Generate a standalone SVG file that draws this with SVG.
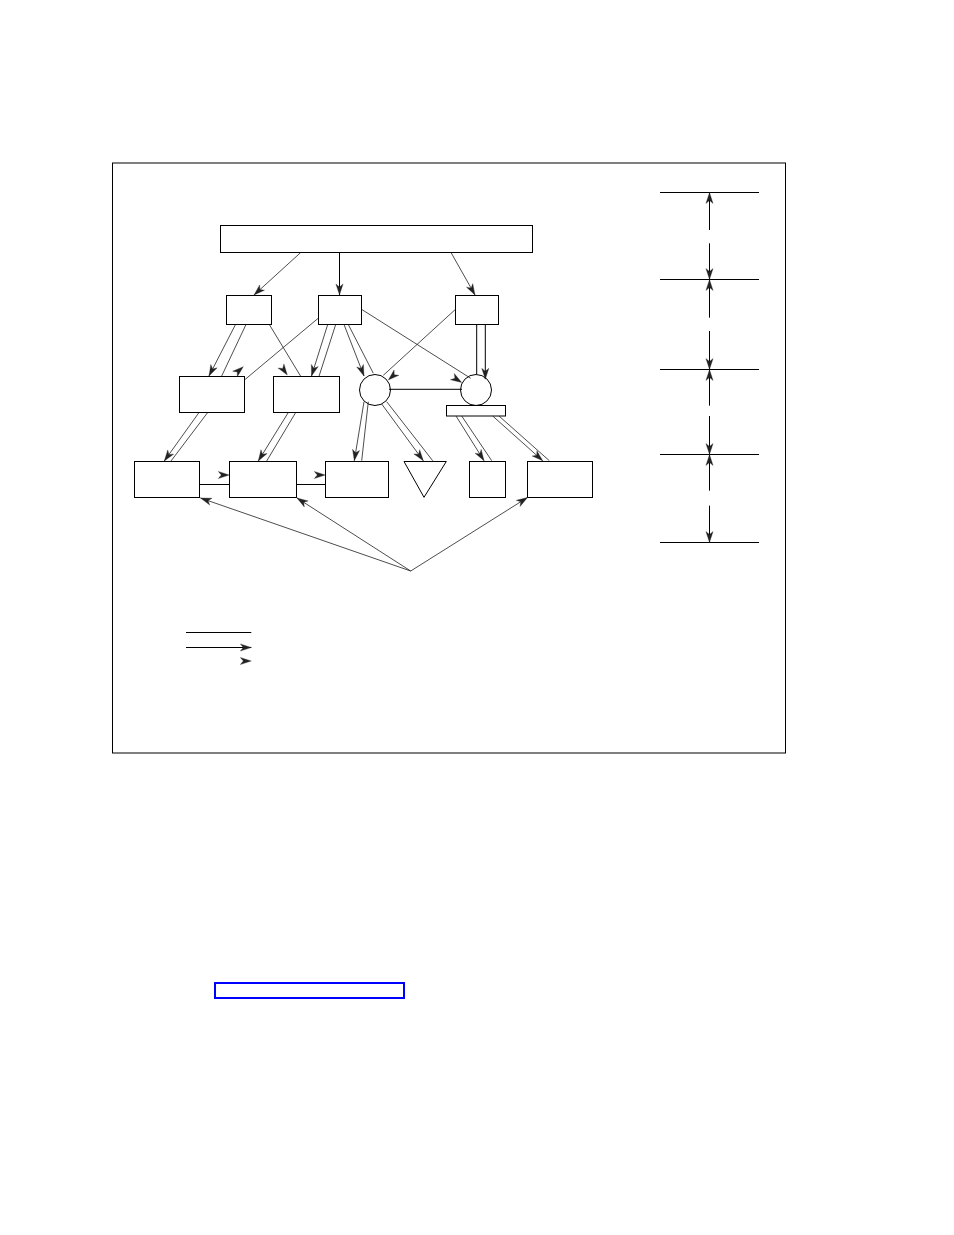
<svg xmlns="http://www.w3.org/2000/svg" xmlns:xlink="http://www.w3.org/1999/xlink" width="954" height="1235" viewBox="0 0 954 1235">
<style>
.box{fill:#fff;stroke:#000;stroke-width:1}
.frame{fill:none;stroke:#000;stroke-width:1}
.ln{fill:none;stroke:#111;stroke-width:0.75}
.lnb{fill:none;stroke:#000;stroke-width:1}
.ah{fill:#222;stroke:#222;stroke-width:0.3}
.link{fill:none;stroke:#0000ff;stroke-width:2}
</style>
<defs>
<path id="ah" class="ah" d="M0,0 L-11,-3.6 L-8,0 L-11,3.6 Z"/>
</defs>
<rect width="954" height="1235" fill="#fff"/>
<rect id="frame" class="frame" x="112.5" y="163" width="673" height="590"/>

<g id="top-bar"><rect class="box" x="220.5" y="225.5" width="312" height="27"/></g>
<g id="box-a"><rect class="box" x="226.5" y="295.5" width="45" height="29"/></g>
<g id="box-b"><rect class="box" x="318.5" y="295.5" width="43" height="29"/></g>
<g id="box-c"><rect class="box" x="455.5" y="295.5" width="43" height="29"/></g>
<g id="box-d"><rect class="box" x="179.5" y="376.5" width="65" height="36"/></g>
<g id="box-e"><rect class="box" x="273.5" y="376.5" width="66" height="36"/></g>
<g id="circle-1"><circle class="box" cx="375" cy="390" r="15.5"/></g>
<g id="circle-2"><circle class="box" cx="476" cy="390" r="15.5"/></g>
<g id="bar-small"><rect class="box" x="446.5" y="405.5" width="59" height="10.5"/></g>
<g id="box-f"><rect class="box" x="134.5" y="461.5" width="65" height="36"/></g>
<g id="box-g"><rect class="box" x="229.5" y="461.5" width="67" height="36"/></g>
<g id="box-h"><rect class="box" x="325.5" y="461.5" width="63" height="36"/></g>
<g id="triangle"><polygon class="box" points="404,461.5 446.3,461.5 424,497.3"/></g>
<g id="box-i"><rect class="box" x="469.5" y="461.5" width="36" height="36"/></g>
<g id="box-j"><rect class="box" x="527.5" y="461.5" width="65" height="36"/></g>

<g id="connectors">
<line class="ln" x1="300.7" y1="252.5" x2="254" y2="295"/>
<line class="lnb" x1="339.5" y1="252.5" x2="339.5" y2="295"/>
<line class="ln" x1="451" y1="252.5" x2="475" y2="295"/>
<line class="ln" x1="235.5" y1="324.5" x2="209" y2="376"/>
<line class="ln" x1="246" y1="324.5" x2="221.7" y2="376"/>
<line class="ln" x1="269.3" y1="324.5" x2="300.7" y2="376.3"/>
<line class="ln" x1="318.5" y1="318" x2="245" y2="379.5"/>
<line class="ln" x1="327.7" y1="324.5" x2="311.5" y2="376"/>
<line class="ln" x1="335.7" y1="324.5" x2="319" y2="376.3"/>
<line class="ln" x1="344" y1="324.5" x2="364" y2="376"/>
<line class="ln" x1="348.3" y1="324.5" x2="373.3" y2="373.3"/>
<line class="ln" x1="361.5" y1="309.3" x2="470.7" y2="378.3"/>
<line class="ln" x1="455.5" y1="309.3" x2="383.3" y2="375.3"/>
<line class="lnb" x1="476.7" y1="324.5" x2="476.7" y2="374"/>
<line class="lnb" x1="485.3" y1="324.5" x2="485.3" y2="379"/>
<line class="lnb" x1="389" y1="389.3" x2="462" y2="389.3"/>
<line class="ln" x1="199" y1="412.5" x2="164.3" y2="461"/>
<line class="ln" x1="207.7" y1="412.5" x2="171" y2="461"/>
<line class="ln" x1="288.3" y1="412.5" x2="258.3" y2="461"/>
<line class="ln" x1="295.7" y1="412.5" x2="266.7" y2="461"/>
<line class="lnb" x1="199.5" y1="484.5" x2="229.5" y2="484.5"/>
<line class="lnb" x1="296.5" y1="484.5" x2="325.5" y2="484.5"/>
<line class="ln" x1="364" y1="401.7" x2="354.3" y2="460.7"/>
<line class="ln" x1="368.3" y1="401.7" x2="361.7" y2="460.7"/>
<line class="ln" x1="381.7" y1="404" x2="423.3" y2="460.7"/>
<line class="ln" x1="386.7" y1="401.7" x2="432.7" y2="460.7"/>
<line class="ln" x1="456" y1="416" x2="484" y2="460.7"/>
<line class="ln" x1="461.7" y1="416" x2="491.7" y2="460.7"/>
<line class="ln" x1="492.7" y1="416" x2="542.7" y2="460.7"/>
<line class="ln" x1="499" y1="416" x2="549.3" y2="460.7"/>
<line class="ln" x1="410.7" y1="571" x2="200.5" y2="498"/>
<line class="ln" x1="410.7" y1="571" x2="297" y2="498"/>
<line class="ln" x1="410.7" y1="571" x2="527.5" y2="497.5"/>

<use xlink:href="#ah" href="#ah" transform="translate(254,295) rotate(137.3)"/>
<use xlink:href="#ah" href="#ah" transform="translate(339.5,295) rotate(90)"/>
<use xlink:href="#ah" href="#ah" transform="translate(475,295) rotate(60.8)"/>
<use xlink:href="#ah" href="#ah" transform="translate(209,376) rotate(117.1)"/>
<use xlink:href="#ah" href="#ah" transform="translate(243.3,366.7) rotate(-41)"/>
<use xlink:href="#ah" href="#ah" transform="translate(287.3,375) rotate(55)"/>
<use xlink:href="#ah" href="#ah" transform="translate(311.5,376) rotate(107.4)"/>
<use xlink:href="#ah" href="#ah" transform="translate(364,376) rotate(69)"/>
<use xlink:href="#ah" href="#ah" transform="translate(388.3,380) rotate(138)"/>
<use xlink:href="#ah" href="#ah" transform="translate(461.7,382.5) rotate(32)"/>
<use xlink:href="#ah" href="#ah" transform="translate(485.3,379.3) rotate(90)"/>
<use xlink:href="#ah" href="#ah" transform="translate(164.3,461) rotate(125.5)"/>
<use xlink:href="#ah" href="#ah" transform="translate(258.3,461) rotate(121.6)"/>
<use xlink:href="#ah" href="#ah" transform="translate(229.3,475) rotate(0)"/>
<use xlink:href="#ah" href="#ah" transform="translate(325.3,475) rotate(0)"/>
<use xlink:href="#ah" href="#ah" transform="translate(354.3,460.7) rotate(99.3)"/>
<use xlink:href="#ah" href="#ah" transform="translate(423.3,460.7) rotate(53.7)"/>
<use xlink:href="#ah" href="#ah" transform="translate(484,460.7) rotate(57.9)"/>
<use xlink:href="#ah" href="#ah" transform="translate(542.7,460.7) rotate(41.8)"/>
<use xlink:href="#ah" href="#ah" transform="translate(200.5,498) rotate(-160.8)"/>
<use xlink:href="#ah" href="#ah" transform="translate(297,498) rotate(-147.2)"/>
<use xlink:href="#ah" href="#ah" transform="translate(527.5,497.5) rotate(-32.3)"/>
</g>

<g id="dimensions">
<line class="lnb" x1="660" y1="192.5" x2="759" y2="192.5"/>
<line class="lnb" x1="660" y1="279.5" x2="759" y2="279.5"/>
<line class="lnb" x1="660" y1="369.5" x2="759" y2="369.5"/>
<line class="lnb" x1="660" y1="454.5" x2="759" y2="454.5"/>
<line class="lnb" x1="660" y1="542.5" x2="759" y2="542.5"/>
<line class="lnb" x1="709.5" y1="192.5" x2="709.5" y2="230"/>
<line class="lnb" x1="709.5" y1="243.3" x2="709.5" y2="317.7"/>
<line class="lnb" x1="709.5" y1="331" x2="709.5" y2="405.7"/>
<line class="lnb" x1="709.5" y1="416" x2="709.5" y2="490.7"/>
<line class="lnb" x1="709.5" y1="505.7" x2="709.5" y2="542.5"/>
<use xlink:href="#ah" href="#ah" transform="translate(709.5,192.5) rotate(-90)"/>
<use xlink:href="#ah" href="#ah" transform="translate(709.5,279.5) rotate(90)"/>
<use xlink:href="#ah" href="#ah" transform="translate(709.5,279.5) rotate(-90)"/>
<use xlink:href="#ah" href="#ah" transform="translate(709.5,369.5) rotate(90)"/>
<use xlink:href="#ah" href="#ah" transform="translate(709.5,369.5) rotate(-90)"/>
<use xlink:href="#ah" href="#ah" transform="translate(709.5,454.5) rotate(90)"/>
<use xlink:href="#ah" href="#ah" transform="translate(709.5,454.5) rotate(-90)"/>
<use xlink:href="#ah" href="#ah" transform="translate(709.5,542.5) rotate(90)"/>
</g>

<g id="legend">
<line class="lnb" x1="186" y1="632.5" x2="251.3" y2="632.5"/>
<line class="lnb" x1="186" y1="647.5" x2="251.3" y2="647.5"/>
<use xlink:href="#ah" href="#ah" transform="translate(251.3,647.5) rotate(0)"/>
<use xlink:href="#ah" href="#ah" transform="translate(251.3,661) rotate(0)"/>
</g>

<g id="link-box"><rect class="link" x="215" y="983" width="189" height="15"/></g>
</svg>
